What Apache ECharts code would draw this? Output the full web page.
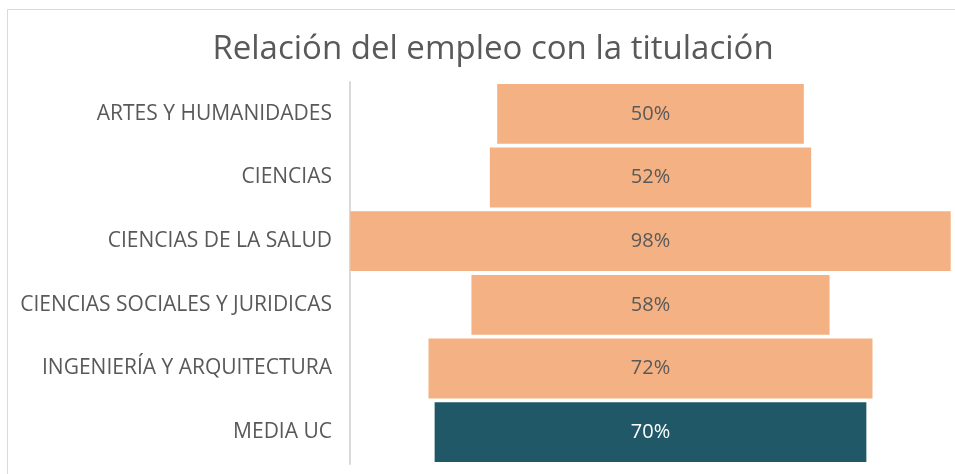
<!DOCTYPE html>
<html>
<head>
<meta charset="utf-8">
<script src="https://cdn.jsdelivr.net/npm/echarts@6/dist/echarts.min.js"></script>
<style>
    html, body { margin: 0; padding: 0; background: #fff; }
    #chart { width: 955px; height: 474px; }
</style>
</head>
<body>
<div id="chart"></div>
<script>
    // categorias y valores (% del empleo relacionado con la titulacion)
    var categories = [
        'ARTES Y HUMANIDADES',
        'CIENCIAS',
        'CIENCIAS DE LA SALUD',
        'CIENCIAS SOCIALES Y JURIDICAS',
        'INGENIERÍA Y ARQUITECTURA',
        'MEDIA UC'
    ]
    var values = [50, 52.4, 97.9, 58.4, 72.4, 70.4]
    var axisMax = 98

    var orange = '#F4B183'
    var teal = '#215867'

    // hueco transparente para centrar cada barra
    var offsets = values.map(function (v) {
        return (axisMax - v) / 2
    })
    var bars = values.map(function (v, i) {
        var last = i === values.length - 1
        return {
            value: v,
            itemStyle: { color: last ? teal : orange },
            label: { color: last ? '#ffffff' : '#595959' }
        }
    })

    var chart = echarts.init(document.getElementById('chart'))
    chart.setOption({
        animation: false,
        title: {
            text: 'Relación del empleo con la titulación',
            left: 488,
            textAlign: 'center',
            top: 28,
            textStyle: {
                fontFamily: 'Open Sans',
                fontSize: 33,
                fontWeight: 'normal',
                color: '#595959'
            }
        },
        graphic: [{
            type: 'rect',
            shape: { x: 7.5, y: 9.5, width: 960, height: 480 },
            style: { fill: 'none', stroke: '#d9d9d9', lineWidth: 1 },
            silent: true
        }],
        grid: {
            left: 350,
            right: 4,
            top: 82,
            bottom: 10
        },
        xAxis: {
            type: 'value',
            min: 0,
            max: axisMax,
            show: false
        },
        yAxis: {
            type: 'category',
            inverse: true,
            data: categories,
            axisLine: { lineStyle: { color: '#d9d9d9', width: 2 } },
            axisTick: { show: false },
            axisLabel: {
                margin: 18,
                fontFamily: 'Open Sans',
                fontSize: 21,
                color: '#595959',
                padding: [3, 0, 0, 0]
            }
        },
        series: [
            {
                type: 'bar',
                stack: 'total',
                silent: true,
                itemStyle: { color: 'transparent' },
                data: offsets
            },
            {
                type: 'bar',
                stack: 'total',
                barCategoryGap: '6%',
                data: bars,
                label: {
                    show: true,
                    position: 'inside',
                    fontFamily: 'Open Sans',
                    fontSize: 20,
                    padding: [3, 0, 0, 0],
                    formatter: function (p) {
                        return Math.round(p.value) + '%'
                    }
                }
            }
        ]
    })
</script>
</body>
</html>
